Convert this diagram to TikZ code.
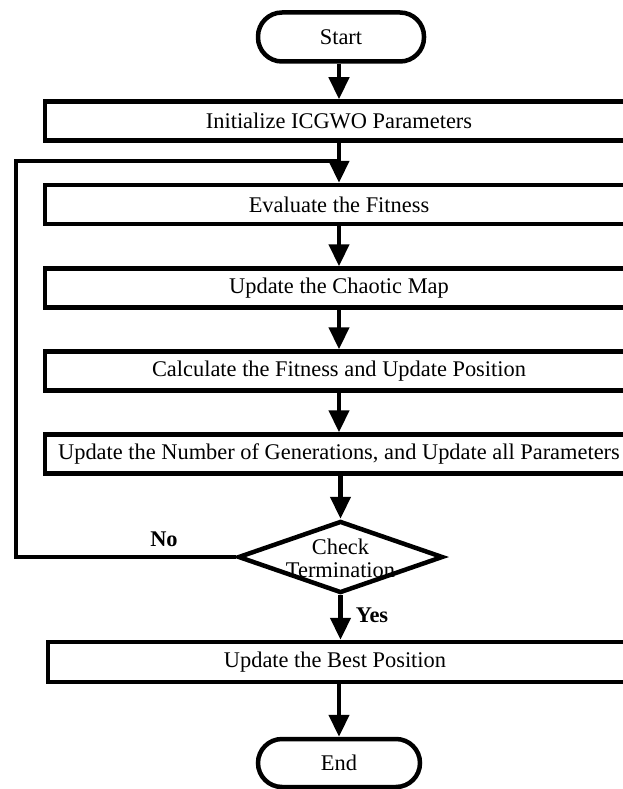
\documentclass[tikz,border=0pt]{standalone}
\usepackage{fontspec}
\setmainfont{Liberation Serif}
\usetikzlibrary{shapes.geometric,arrows.meta}
\begin{document}
\begin{tikzpicture}[x=1pt,y=-1pt,
  every node/.style={font=\fontsize{22.4}{21}\selectfont},
  lw/.style={line width=4.5pt},
  procbox/.style={draw,lw,rectangle,minimum width=588pt,minimum height=39pt,inner sep=0pt},
  term/.style={draw,lw,rectangle,rounded corners=24pt,minimum width=166pt,minimum height=49pt,inner sep=0pt},
  flow/.style={lw,-{Triangle[length=22pt,width=20pt]}},
  lbl/.style={font=\fontsize{22.4}{21}\selectfont\bfseries}
]
\clip (0,0) rectangle (623,789);
\fill[white] (0,0) rectangle (623,789);
\node[term] (start) at (341,37) {Start};
\node[procbox] (init) at (339,121) {Initialize ICGWO Parameters};
\node[procbox] (eval) at (339,204.5) {Evaluate the Fitness};
\node[procbox] (chaos) at (339,288) {Update the Chaotic Map};
\node[procbox] (calc) at (339,371) {Calculate the Fitness and Update Position};
\node[procbox] (gen) at (339,454) {Update the Number of Generations, and Update all Parameters};
\node[draw,lw,diamond,minimum width=205pt,minimum height=72pt,inner sep=0pt] (check) at (340.5,557) {};
\node[align=center,font=\fontsize{22.4}{23}\selectfont] (checktxt) at (340.5,558) {Check\\Termination};
\node[draw,lw,rectangle,minimum width=580pt,minimum height=40pt,inner sep=0pt] (best) at (338,662) {};
\node (besttxt) at (335,662) {Update the Best Position};
\node[term,minimum width=162pt,minimum height=48pt] (end) at (339,763) {End};
\coordinate (lb) at (16,557);
\coordinate (lt) at (16,161);
\coordinate (j) at (339,161);
\draw[flow] (start.south -| init.north) -- (init.north);
\draw[lw] (init.south) -- (j);
\draw[flow] (j) -- (eval.north);
\draw[lw] (check.west) -- (lb) -- (lt) -- (j);
\draw[flow] (eval) -- (chaos);
\draw[flow] (chaos) -- (calc);
\draw[flow] (calc) -- (gen);
\draw[flow] (gen.south) -- (gen.south -| check.north) -- (check.north);
\draw[flow] (check.south) -- (check.south |- best.north);
\draw[flow] (best.south -| end.north) -- (end.north);
\node[lbl] (no) at (164,539) {No};
\node[lbl] (yes) at (372,615) {Yes};
\end{tikzpicture}
\end{document}
